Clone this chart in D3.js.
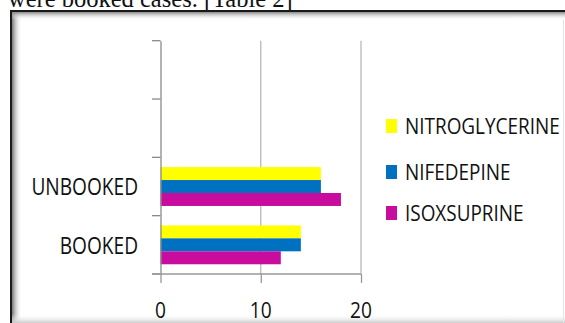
<!DOCTYPE html>
<html><head><meta charset="utf-8">
<script src="https://cdn.jsdelivr.net/npm/d3@7"></script>
<style>html,body{margin:0;padding:0;background:#fff;}svg{display:block;}</style>
</head><body>
<svg id="chart" width="565" height="323"></svg>
<script>
// ---- data ----
const categories = ["UNBOOKED", "BOOKED"];           // top to bottom
const blankSlots = ["blank1", "blank2"];             // empty category slots above
const seriesNames = ["NITROGLYCERINE", "NIFEDEPINE", "ISOXSUPRINE"];
const nitroglycerine = [16, 14];
const nifedepine = [16, 14];
const isoxsuprine = [18, 12];
const xTicks = [0, 10, 20];
const colors = ["#FFFF00", "#0070C0", "#C70C9E"];
const caption = "were booked cases. [Table 2]";

const values = [nitroglycerine, nifedepine, isoxsuprine];

const svg = d3.select("#chart");
const FONT = "'Open Sans', sans-serif";

// caption (partially cut off at top)
svg.append("text").attr("x", 8).attr("y", 6.5)
  .attr("font-family", "'Liberation Serif', 'Times New Roman', serif")
  .attr("font-size", 24.5).attr("fill", "#111").text(caption);

// frame with inner shadow
const defs = svg.append("defs");
const gl = defs.append("linearGradient").attr("id", "gl").attr("x1", 0).attr("x2", 1).attr("y1", 0).attr("y2", 0);
gl.append("stop").attr("offset", 0).attr("stop-color", "#777");
gl.append("stop").attr("offset", 1).attr("stop-color", "#fff").attr("stop-opacity", 0);
const gt = defs.append("linearGradient").attr("id", "gt").attr("x1", 0).attr("x2", 0).attr("y1", 0).attr("y2", 1);
gt.append("stop").attr("offset", 0).attr("stop-color", "#888");
gt.append("stop").attr("offset", 1).attr("stop-color", "#fff").attr("stop-opacity", 0);
const gb = defs.append("linearGradient").attr("id", "gb").attr("x1", 0).attr("x2", 0).attr("y1", 0).attr("y2", 1);
gb.append("stop").attr("offset", 0).attr("stop-color", "#fff").attr("stop-opacity", 0);
gb.append("stop").attr("offset", 1).attr("stop-color", "#ccc");

svg.append("rect").attr("x", 12).attr("y", 12).attr("width", 10).attr("height", 311).attr("fill", "url(#gl)");
svg.append("rect").attr("x", 12).attr("y", 12).attr("width", 553).attr("height", 8).attr("fill", "url(#gt)");
svg.append("rect").attr("x", 12).attr("y", 314).attr("width", 553).attr("height", 9).attr("fill", "url(#gb)");
svg.append("line").attr("x1", 11).attr("x2", 11).attr("y1", 10).attr("y2", 323).attr("stroke", "#1a1a1a").attr("stroke-width", 2);
svg.append("line").attr("x1", 10).attr("x2", 565).attr("y1", 11).attr("y2", 11).attr("stroke", "#1a1a1a").attr("stroke-width", 2);
svg.append("line").attr("x1", 563.5).attr("x2", 563.5).attr("y1", 20).attr("y2", 323).attr("stroke", "#e4e4e4").attr("stroke-width", 1);

// scales
const x = d3.scaleLinear().domain([0, 20]).range([160.5, 361]);
const y = d3.scaleBand().domain(blankSlots.concat(categories)).range([40.7, 274]).paddingInner(0).paddingOuter(0);
const ySub = d3.scaleBand().domain(seriesNames).range([0, y.bandwidth()]).paddingInner(0).paddingOuter(0.75);

// gridlines
svg.append("g").selectAll("line").data(xTicks.filter(d => d > 0)).join("line")
  .attr("x1", d => x(d)).attr("x2", d => x(d)).attr("y1", 40.7).attr("y2", 274)
  .attr("stroke", "#b8b8b8").attr("stroke-width", 1.3);

// bars
seriesNames.forEach((s, si) => {
  svg.append("g").selectAll("rect").data(categories).join("rect")
    .attr("x", x(0)).attr("y", c => y(c) + ySub(s))
    .attr("width", (c, i) => x(values[si][i]) - x(0))
    .attr("height", ySub.bandwidth())
    .attr("fill", colors[si]);
});

// left axis (category)
const yAxis = d3.axisLeft(y).tickSize(0).tickFormat("");
const gy = svg.append("g").attr("transform", `translate(${x(0)},0)`).call(yAxis);
gy.select(".domain").attr("stroke", "#8a8a8a").attr("stroke-width", 1.3);
const bounds = y.domain().map(d => y(d)).concat([y.range()[1]]);
svg.append("g").selectAll("line").data(bounds).join("line")
  .attr("x1", x(0) - 8.5).attr("x2", x(0)).attr("y1", d => d).attr("y2", d => d)
  .attr("stroke", "#8a8a8a").attr("stroke-width", 1.3);

// bottom axis
const xAxis = d3.axisBottom(x).tickValues(xTicks).tickSize(9).tickFormat("");
const gx = svg.append("g").attr("transform", "translate(0,274)").call(xAxis);
gx.select(".domain").attr("d", `M${x(0) - 8.5},0H${x(20)}`).attr("stroke", "#999").attr("stroke-width", 1.3);
gx.selectAll(".tick line").attr("stroke", "#999").attr("stroke-width", 1.3);

function scaledText(parent, tx, ty, str, size, sx, anchor) {
  parent.append("g").attr("transform", `translate(${tx},${ty}) scale(${sx},1)`)
    .append("text").attr("font-family", FONT).attr("font-size", size)
    .attr("text-anchor", anchor).attr("fill", "#111").text(str);
}

// category labels
categories.forEach(c => {
  scaledText(svg, 138, y(c) + y.bandwidth() / 2 + 8.8, c, 24.5, 0.78, "end");
});
// x tick labels
xTicks.forEach(t => scaledText(svg, x(t), 318.3, String(t), 22, 0.87, "middle"));

// legend
const legendY = [126, 172, 213];
seriesNames.forEach((s, i) => {
  svg.append("rect").attr("x", 386).attr("y", legendY[i] - 7).attr("width", 11).attr("height", 14).attr("fill", colors[i]);
  scaledText(svg, 405, legendY[i] + 7.7, s, 21.5, 0.88, "start");
});
</script>
</body></html>
